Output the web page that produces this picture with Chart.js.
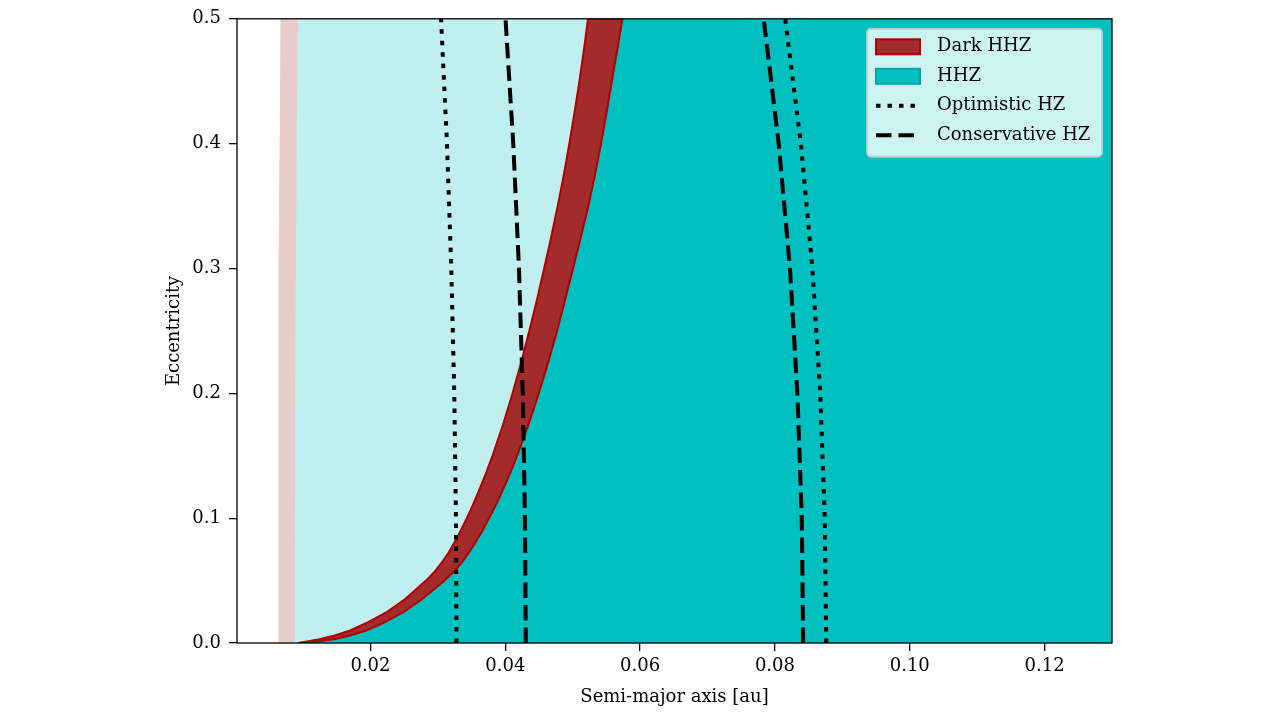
<!DOCTYPE html>
<html>
<head>
<meta charset="utf-8">
<title>HHZ</title>
<script src="https://cdn.jsdelivr.net/npm/chart.js@4.4.1/dist/chart.umd.min.js"></script>
<style>
    html, body { margin: 0; padding: 0; background: #fff; }
    canvas { display: block; }
</style>
</head>
<body>
<canvas id="myChart" width="1280" height="718"></canvas>
<script>
// values

const X_MIN = 0.0002;
const X_MAX = 0.13;
const xTicks = [0.02, 0.04, 0.06, 0.08, 0.10, 0.12];
const yTicks = [0.0, 0.1, 0.2, 0.3, 0.4, 0.5];

// dark HHZ band, inner and outer semi-major axis for each eccentricity
const bandEcc   = [0, 0.001, 0.003, 0.006, 0.01, 0.016, 0.025, 0.035, 0.05, 0.0575, 0.065, 0.0725, 0.08, 0.09, 0.1, 0.1125, 0.125, 0.1375, 0.15, 0.175, 0.2, 0.225, 0.25, 0.275, 0.3, 0.325, 0.35, 0.375, 0.4, 0.425, 0.45, 0.475, 0.5];
const darkInner = [0.0093, 0.0104, 0.0124, 0.0147, 0.0170, 0.0194, 0.02248, 0.02511, 0.02824, 0.02958, 0.03065, 0.03160, 0.03239, 0.03338, 0.03430, 0.03534, 0.03632, 0.03724, 0.03810, 0.03967, 0.04108, 0.04237, 0.04356, 0.04470, 0.04576, 0.04680, 0.04778, 0.04868, 0.04950, 0.05027, 0.05100, 0.05166, 0.05227];
const darkOuter = [0.0095, 0.01153, 0.01457, 0.01694, 0.01935, 0.02186, 0.02495, 0.02763, 0.03099, 0.03242, 0.03363, 0.03460, 0.03549, 0.03660, 0.03760, 0.03878, 0.03984, 0.04083, 0.04176, 0.04345, 0.04497, 0.04637, 0.04767, 0.04887, 0.05005, 0.05120, 0.05232, 0.05330, 0.05420, 0.05503, 0.05580, 0.05660, 0.05737];

// faint band at the inner edge
const edgeEcc   = [0, 0.1, 0.2, 0.3, 0.4, 0.5];
const pinkInner = [0.00631, 0.00632, 0.00636, 0.00643, 0.00654, 0.00667];
const pinkOuter = [0.00877, 0.00879, 0.00884, 0.00893, 0.00907, 0.00926];

// habitable zone edges
const hzEcc     = [0, 0.1, 0.2, 0.3, 0.4, 0.5];
const optInner  = [0.03276, 0.03268, 0.03243, 0.03199, 0.03135, 0.03047];
const optOuter  = [0.08761, 0.08739, 0.08672, 0.08556, 0.08385, 0.08152];
const consInner = [0.04304, 0.04292, 0.04259, 0.04203, 0.04118, 0.04003];
const consOuter = [0.08419, 0.08398, 0.08333, 0.08223, 0.08056, 0.07833];

const FONT = "'DejaVu Serif', serif";
const CYAN = '#00BFBF';
const LIGHT_CYAN = '#BFEFEF';
const PINK = '#E8CCCC';
const DARK_RED = '#A32B2B';
const EDGE_RED = '#B00000';

const pts = function (xs, ys) {
    return xs.map((x, i) => ({x: x, y: ys[i]}));
}
const yTop = yTicks[yTicks.length - 1];
const yBottom = yTicks[0];
const rightSide = [{x: X_MAX, y: yTop}, {x: X_MAX, y: yBottom}];
// the solid cyan starts under the middle of the red band
const darkMid = darkInner.map((v, i) => (v + darkOuter[i]) / 2);

const area = function (label, data, color, order, extra) {
    return Object.assign({
        label: label,
        data: data,
        fill: 'shape',
        backgroundColor: color,
        borderColor: color,
        borderWidth: 0,
        pointRadius: 0,
        tension: 0,
        order: order,
    }, extra || {});
}

const hzLine = function (label, xs, dash, inLegend) {
    return {
        label: label,
        data: pts(xs, hzEcc),
        fill: false,
        borderColor: '#000',
        borderWidth: 4,
        borderDash: dash,
        borderCapStyle: 'butt',
        pointRadius: 0,
        tension: 0,
        order: 0,
        inLegend: inLegend,
        legendKind: 'line',
    }
}

const DOTS = [4.5, 7];
const DASHES = [15.5, 7];

const datasets = [
    area('Dark HHZ', pts(darkInner, bandEcc).concat(pts(darkOuter, bandEcc).reverse()), DARK_RED, 2,
        {borderWidth: 2, borderColor: EDGE_RED, inLegend: true, legendKind: 'patch', edge: EDGE_RED}),
    area('HHZ', pts(darkMid, bandEcc).concat(rightSide), CYAN, 3,
        {inLegend: true, legendKind: 'patch', edge: '#00A8A8'}),
    hzLine('Optimistic HZ', optInner, DOTS, true),
    hzLine('Conservative HZ', consInner, DASHES, true),
    hzLine('Optimistic HZ outer', optOuter, DOTS, false),
    hzLine('Conservative HZ outer', consOuter, DASHES, false),
    area('inner edge', pts(pinkInner, edgeEcc).concat(pts(pinkOuter, edgeEcc).reverse()), PINK, 1),
    area('HHZ light', pts(pinkInner, edgeEcc).concat(rightSide), LIGHT_CYAN, 4),
];

// frame round the plot
const frame = {
    id: 'frame',
    afterDatasetsDraw(chart) {
        const {ctx, chartArea} = chart;
        ctx.save();
        ctx.strokeStyle = '#000';
        ctx.lineWidth = 1.3;
        ctx.strokeRect(chartArea.left, chartArea.top, chartArea.right - chartArea.left, chartArea.bottom - chartArea.top);
        ctx.restore();
    }
}

// legend in the upper right corner of the plot
const legendBox = {
    id: 'legendBox',
    afterDraw(chart) {
        const {ctx, chartArea} = chart;
        const w = 235, h = 128;
        const x0 = chartArea.right - 10 - w;
        const y0 = chartArea.top + 10;
        ctx.save();
        ctx.beginPath();
        ctx.roundRect(x0, y0, w, h, 4);
        ctx.fillStyle = 'rgba(255,255,255,0.8)';
        ctx.fill();
        ctx.strokeStyle = 'rgba(200,200,200,0.9)';
        ctx.lineWidth = 2;
        ctx.stroke();

        const items = chart.data.datasets.filter((d) => d.inLegend);
        items.forEach((d, i) => {
            const cy = y0 + 18 + i * 29.5;
            const px = x0 + 9;
            if (d.legendKind === 'patch') {
                ctx.fillStyle = d.backgroundColor;
                ctx.fillRect(px, cy - 7.5, 44, 15);
                ctx.strokeStyle = d.edge;
                ctx.lineWidth = 2;
                ctx.strokeRect(px, cy - 7.5, 44, 15);
            } else {
                ctx.beginPath();
                ctx.setLineDash(d.borderDash);
                ctx.lineCap = 'butt';
                ctx.strokeStyle = '#000';
                ctx.lineWidth = 4;
                ctx.moveTo(px, cy);
                ctx.lineTo(px + 40, cy);
                ctx.stroke();
                ctx.setLineDash([]);
            }
            ctx.fillStyle = '#000';
            ctx.font = '18px ' + FONT;
            ctx.textBaseline = 'middle';
            ctx.fillText(d.label, x0 + 70, cy);
        });
        ctx.restore();
    }
}

var ctx = document.getElementById('myChart').getContext('2d');
new Chart(ctx, {
    type: 'line',
    data: {datasets: datasets},
    options: {
        responsive: false,
        animation: false,
        devicePixelRatio: 1,
        layout: {padding: {top: 17, right: 168, bottom: 0, left: 0}},
        plugins: {
            legend: {display: false},
            tooltip: {enabled: false},
        },
        scales: {
            x: {
                type: 'linear',
                min: X_MIN,
                max: X_MAX,
                afterBuildTicks: (s) => { s.ticks = xTicks.map((v) => ({value: v})); },
                afterFit: (s) => { s.height = 75; },
                ticks: {
                    callback: (v) => v.toFixed(2),
                    color: '#000',
                    font: {family: FONT, size: 18},
                    padding: 5,
                    maxRotation: 0,
                    autoSkip: false,
                },
                grid: {drawOnChartArea: false, drawTicks: true, tickLength: 8, color: '#000', lineWidth: 1.3},
                border: {display: false},
                title: {
                    display: true,
                    text: 'Semi-major axis [au]',
                    color: '#000',
                    font: {family: FONT, size: 18},
                    padding: {top: 0, bottom: 10},
                },
            },
            y: {
                type: 'linear',
                min: yBottom,
                max: yTop,
                afterBuildTicks: (s) => { s.ticks = yTicks.map((v) => ({value: v})); },
                afterFit: (s) => { s.width = 237; },
                ticks: {
                    callback: (v) => v.toFixed(1),
                    color: '#000',
                    font: {family: FONT, size: 18},
                    padding: 8,
                },
                grid: {drawOnChartArea: false, drawTicks: true, tickLength: 8, color: '#000', lineWidth: 1.3},
                border: {display: false},
                title: {
                    display: true,
                    text: 'Eccentricity',
                    color: '#000',
                    font: {family: FONT, size: 18},
                    padding: {top: 164, bottom: 0},
                },
            },
        },
    },
    plugins: [frame, legendBox],
});
</script>
</body>
</html>
